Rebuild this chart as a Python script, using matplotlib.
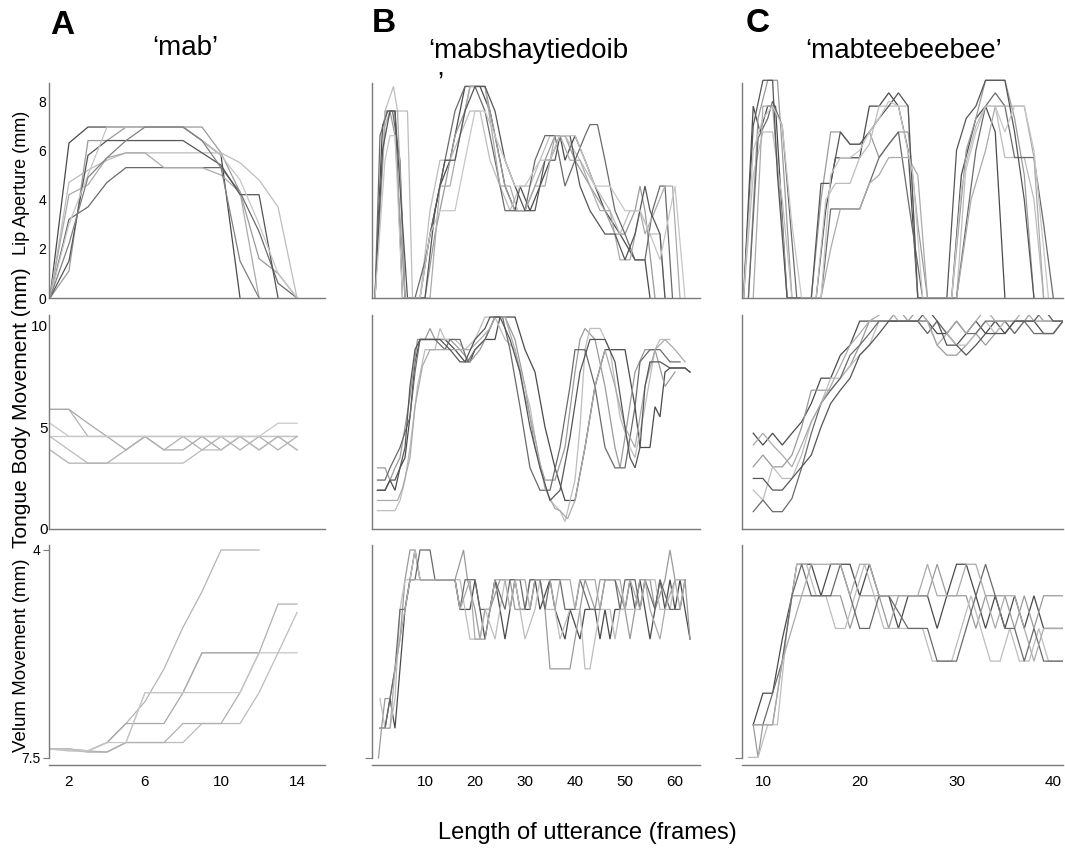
import matplotlib
matplotlib.use('Agg')
import matplotlib.pyplot as plt

# ---------------- data ----------------
# Column A ('mab'): one value per frame, starting at frame 1
A_LIP = [
    [0, 6.3, 6.95, 6.95, 6.95, 6.95, 6.95, 6.95, 6.4, 5.8, 0.0],
    [0, 1.1, 6.4, 6.4, 6.95, 6.95, 6.95, 6.95, 6.95, 5.9, 4.3, 1.6, 1.0, 0.0],
    [0, 4.7, 5.2, 5.6, 5.9, 5.9, 5.9, 5.9, 5.9, 5.9, 5.5, 4.8, 3.7, 0.0],
    [0, 3.2, 3.7, 4.7, 5.3, 5.3, 5.3, 5.3, 5.3, 5.3, 4.3, 2.7, 0.6, 0.0],
    [0, 4.2, 4.6, 5.7, 5.9, 5.9, 5.3, 5.3, 5.3, 5.0, 4.3, 0.0],
    [0, 1.5, 5.8, 6.4, 6.4, 6.4, 6.4, 6.4, 5.9, 5.4, 4.2, 4.2, 0.0],
    [0, 3.0, 5.0, 6.95, 6.95, 6.95, 6.95, 6.95, 6.4, 5.8, 4.8, 3.0, 1.0, 0.0],
    [0, 2.2, 4.9, 5.7, 6.4, 6.95, 6.95, 6.95, 6.4, 5.3, 1.5, 0.0],
]
A_TONGUE = [
    [5.87, 5.87, 4.54, 4.54, 4.54, 4.54, 4.54, 4.54, 4.54, 4.54, 4.54, 4.54, 4.54, 4.54],
    [5.19, 4.54, 4.54, 4.54, 4.54, 4.54, 4.54, 4.54, 4.54, 4.54, 4.54, 4.54, 4.54, 4.54],
    [5.87, 5.87, 5.19, 4.54, 3.88, 4.54, 3.88, 3.88, 4.54, 3.88, 4.54, 3.88, 4.54, 3.88],
    [4.54, 3.88, 3.23, 3.23, 3.23, 3.23, 3.23, 3.23, 3.88, 3.88, 4.54, 3.88, 4.54, 3.88],
    [3.88, 3.23, 3.23, 3.23, 3.88, 4.54, 3.88, 4.54, 3.88, 4.54, 3.88, 4.54, 3.88, 4.54],
    [4.54, 4.54, 4.54, 4.54, 4.54, 4.54, 4.54, 4.54, 4.54, 4.54, 4.54, 4.54, 5.19, 5.19],
]
A_VELUM = [
    [7.35, 7.38, 7.38, 7.24, 6.92, 6.55, 6.0, 5.3, 4.7, 4.0, 4.0, 4.0],
    [7.35, 7.37, 7.40, 7.40, 7.24, 6.40, 6.40, 6.40, 5.73, 5.73, 5.73, 5.73, 5.73, 5.73],
    [7.35, 7.35, 7.38, 7.24, 6.92, 6.92, 6.92, 6.40, 5.73, 5.73, 5.73, 5.73],
    [7.35, 7.35, 7.40, 7.40, 7.24, 7.24, 7.24, 7.24, 6.92, 6.92, 6.92, 6.40, 5.73, 5.05],
    [7.35, 7.35, 7.38, 7.40, 7.24, 7.24, 7.24, 6.92, 6.92, 6.92, 6.40, 5.73, 4.91, 4.91],
    [7.35, 7.36, 7.38, 7.24, 7.24, 6.40, 6.40, 6.40, 6.40, 6.40, 6.40, 5.73],
]

# Columns B and C: trace vertices as (frame, value)
B_LIP = [
    [(0,0),(1.5,7.0),(2.5,7.6),(4,7.6),(5.5,0),(9,0),(11,2.6),(13,4.55),(15,5.6),(17,7.6),(18,8.6),(21,8.6),(23,7.6),(25,5.6),(26,4.55),(28,3.55),(29,4.55),(31,3.55),(33,4.55),(35,5.6),(37,6.6),(38,5.6),(40,6.6),(42,5.6),(44,4.55),(46,3.55),(49,2.6),(52,1.55),(54,1.55),(55,0)],
    [(0,0),(2,7.6),(3,7.6),(4,6.6),(6,0),(10,0),(12,2.6),(14,4.55),(16,6.6),(18,7.6),(19,8.6),(22,8.6),(24,6.6),(26,4.55),(28,3.55),(30,3.55),(32,4.55),(34,5.6),(36,6.6),(38,6.6),(40,5.6),(43,4.55),(46,3.55),(48,2.6),(50,2.6),(52,3.55),(53,4.55),(54,3.55),(56,0)],
    [(0,0),(2,7.6),(3.7,8.6),(4.5,7.6),(6.5,7.6),(7.5,0),(9,0),(11,3.55),(13,5.6),(15,5.6),(17,6.6),(19,7.6),(21,7.6),(23,5.6),(25,4.55),(27,3.55),(29,4.55),(31,4.55),(33,5.6),(35,6.6),(38,6.6),(41,5.6),(44,4.55),(47,3.55),(49,2.6),(51,3.55),(53,3.55),(55,2.6),(57,2.6),(58,0)],
    [(0,0),(1,6.6),(2.5,7.6),(3.5,7.6),(5,5.6),(6,0),(8,0),(10,1.5),(12,3.55),(14,5.6),(16,7.6),(18,8.6),(20,8.6),(22,7.6),(24,5.6),(26,3.55),(28,3.55),(30,3.55),(32,5.6),(34,6.6),(36,6.6),(38,4.55),(40,5.6),(42,6.6),(43,7.05),(44.5,7.05),(46,5.6),(48,3.55),(50,2.6),(52,1.55),(54,1.55),(55.5,3.55),(57,4.55),(58,4.55),(59.5,0)],
    [(0,0),(2,7.0),(3,7.6),(4.5,7.6),(6,0),(11,0),(13,4.55),(15,4.55),(17,6.6),(19,8.6),(22,8.6),(23.5,6.6),(25,4.55),(27,4.55),(28.5,3.55),(30,3.55),(32,4.55),(34,4.55),(36,6.6),(37,6.6),(39,5.6),(41,5.6),(43,4.55),(45,3.55),(47,3.55),(49,1.55),(51,1.55),(53,3.55),(54,2.6),(56,3.55),(58,4.55),(59.5,4.55),(61,0)],
    [(0,0),(1.5,6.0),(3,7.6),(4,7.6),(5,4.55),(6.5,0),(10,0),(12,3.55),(14,5.6),(16,5.6),(18,7.6),(20,8.6),(22,8.6),(24,7.6),(26,5.6),(28,4.55),(30,3.55),(32,3.55),(34,5.6),(36,5.6),(37,6.6),(39,6.6),(41,4.55),(43,3.55),(46,2.6),(48,2.6),(50,1.55),(52,2.6),(54,4.55),(55,3.55),(57,2.6),(58,0)],
    [(0,0),(2,5.6),(3,6.6),(4,6.6),(5.5,0),(9,0),(11,2.6),(13,3.55),(16,3.55),(18,5.6),(20,7.6),(22,7.6),(24,6.6),(26,5.6),(28,4.55),(30,4.55),(33,5.6),(35,5.6),(37,6.6),(40,6.6),(42,5.6),(44,4.55),(47,4.55),(50,3.55),(53,3.55),(55,2.6),(57,1.55),(59,3.55),(60,4.55),(62,0)],
]
B_TONGUE = [
    [(0.5,1.9),(2,1.9),(3,2.4),(4,1.9),(5,3.0),(6,3.5),(7,5.5),(8,8.2),(9,9.3),(14,9.3),(16,8.8),(18,8.2),(19,8.2),(20,8.8),(22,9.3),(24,9.3),(25,10.4),(28,10.4),(30,8.8),(32,7.7),(34,5.0),(36,3.0),(38,1.4),(40,1.4),(42,4.0),(44,7.0),(46,8.8),(50,8.8),(52,6.0),(53,4.0),(55,4.0),(56,6.0),(57,5.5),(58,7.7),(59,7.9),(62,7.9),(63,7.7)],
    [(0.5,3.0),(2,3.0),(3,2.4),(4,3.0),(5,3.5),(7,6.5),(8.5,9.3),(10,9.3),(11,9.84),(12,9.3),(15,9.3),(17,8.8),(19,8.2),(21,8.8),(22,9.3),(23,9.84),(24,10.4),(26,10.4),(28,9.3),(30,7.0),(32,4.0),(34,2.4),(36,2.4),(38,4.0),(40,7.7),(41,9.3),(42,9.84),(44,9.3),(46,7.0),(48,4.0),(49,3.0),(50,4.5),(52,7.7),(54,8.8),(56,8.8),(58,7.0),(60,7.7)],
    [(0.5,0.9),(4,0.9),(5,1.4),(6,2.4),(7,4.0),(8.5,7.0),(10,8.8),(12,8.8),(13,9.84),(14,9.3),(16,9.3),(18,8.8),(20,9.3),(21,9.84),(22,10.4),(24,10.4),(26,9.3),(28,8.8),(31,6.0),(33,3.0),(35,1.4),(37,0.9),(38,0.36),(40,2.4),(41,5.0),(42,8.8),(43,9.84),(45,9.84),(47,8.8),(49,5.5),(51,4.0),(52,3.5),(54,6.0),(56,8.8),(57,9.3),(59,9.3)],
    [(0.5,2.4),(2,2.4),(3,3.0),(4,3.5),(5,4.0),(7,5.5),(8,7.7),(9,9.3),(12,9.3),(14,8.8),(15,9.3),(17,9.3),(18.5,8.2),(20,8.8),(22,9.3),(24,10.4),(25.5,10.4),(27,8.8),(29,6.0),(31,3.0),(33,1.9),(35,1.9),(37,4.0),(39,7.0),(40,8.8),(42,8.8),(44,7.0),(46,4.0),(48,3.0),(50,3.0),(52,6.0),(53,8.2),(55,8.8),(57,8.8),(59,8.2),(61,8.2)],
    [(0.5,1.4),(4.5,1.4),(5.5,2.0),(7,3.5),(8,6.0),(9.5,8.0),(11,8.8),(19,8.8),(21,9.3),(23,9.84),(24,10.4),(26,10.4),(28,8.8),(30,6.5),(32,4.5),(34,2.0),(36,1.0),(37,0.9),(38.5,0.5),(40,1.4),(42,4.0),(44,7.0),(46,8.8),(48,7.0),(50,5.0),(52,4.0),(54,7.0),(56,8.8),(58,9.3),(60,8.8),(62,8.2)],
    [(0.5,1.9),(2,1.9),(3,2.4),(4,2.4),(5,3.0),(6,4.0),(7,7.0),(8,8.8),(9,9.3),(13,9.3),(15,8.8),(17,8.2),(18,8.2),(20,9.3),(22,9.84),(23,10.4),(25,10.4),(27,9.3),(29,7.7),(31,5.0),(33,3.0),(35,1.4),(37,1.9),(39,4.5),(41,7.7),(43,9.3),(46,9.3),(48,8.2),(50,5.0),(51,3.5),(52,3.0),(53,4.0),(54,7.0),(55,8.2),(57,8.2),(59,7.9),(62,7.9),(63,7.7)],
]
B_VELUM = [
    [(1,7.0),(2,7.0),(3,6.5),(4,7.0),(5,6.0),(6,5.0),(7,4.5),(8,4.0),(9,4.5),(16,4.5),(17,5.0),(19,5.0),(20,4.5),(21,5.0),(22,5.5),(23,5.0),(24,4.5),(25,5.0),(26,5.5),(27,5.0),(28,4.5),(29,5.0),(31,5.0),(32,4.5),(33,5.0),(35,4.5),(36,5.0),(38,5.5),(39,5.0),(41,5.5),(42,5.0),(44,5.0),(45,5.5),(46,5.0),(47,5.5),(48,5.0),(50,5.0),(51,4.5),(52,5.0),(53,4.5),(54,5.0),(55,5.5),(56,5.0),(57,4.5),(58,5.0),(59,4.5),(60,5.0),(61,4.5),(62,5.0),(63,5.5)],
    [(0.7,7.5),(1.3,7.0),(2,6.5),(3,6.5),(4,6.0),(5,5.5),(6,4.5),(7,4.0),(8,4.0),(9,4.5),(16,4.5),(17.7,4.0),(18.5,4.5),(20,5.0),(21,5.5),(22,5.5),(23,5.0),(25,4.5),(27,4.5),(28,5.0),(30,5.0),(31,4.5),(33,4.5),(34,5.0),(35,6.0),(39,6.0),(40,5.5),(41,5.0),(42,4.5),(44,5.0),(45,4.5),(48,4.5),(50,5.0),(51,5.5),(52,5.0),(53,4.5),(55,4.5),(56,5.0),(58,4.5),(59,4.0),(60,4.5),(62,4.5),(63,5.5)],
    [(1,6.5),(2,7.0),(3,7.0),(4,6.5),(5,5.0),(6,4.5),(7,4.5),(8,4.0),(9,4.5),(17,4.5),(18,5.0),(19,5.5),(21,5.5),(22,5.0),(24,5.5),(25,5.0),(26,4.5),(28,4.5),(29,5.0),(30,5.5),(32,5.0),(33,4.5),(34,5.0),(36,5.0),(37,5.5),(39,5.0),(41,5.0),(42,6.0),(43,6.0),(44,5.5),(45,5.0),(47,5.0),(48,5.5),(49,5.0),(53,5.0),(54,4.5),(56,4.5),(57,5.0),(59,5.0),(60,4.5),(62,4.5)],
    [(1,7.0),(2,7.0),(3,6.5),(4,6.0),(5,5.0),(6,5.0),(7,4.5),(8,4.5),(9,4.0),(11,4.0),(12,4.5),(16,4.5),(17,5.0),(18,4.5),(20,4.5),(21,5.0),(23,5.0),(24,4.5),(26,5.0),(27,4.5),(29,4.5),(30,5.0),(31,4.5),(33,4.5),(34,5.0),(35,4.5),(37,4.5),(38,5.0),(40,5.0),(41,4.5),(43,5.0),(45,5.0),(46,4.5),(48,4.5),(49,5.0),(50,4.5),(52,4.5),(53,5.0),(54,4.5),(56,5.0),(57,4.5),(59,5.0),(61,5.0),(62,4.5)],
    [(1,7.0),(3,7.0),(4,6.0),(5,5.5),(6,5.0),(7,4.5),(16,4.5),(17,5.0),(19,4.5),(20,5.5),(21,5.5),(22,5.0),(23,5.0),(24,4.5),(26,4.5),(27,5.0),(28,4.5),(30,4.5),(31,5.0),(32,4.5),(35,4.5),(36,5.0),(37,4.5),(39,4.5),(40,5.0),(41,4.5),(44,4.5),(45,5.0),(46,4.5),(49,4.5),(50,5.0),(51,4.5),(53,5.0),(54,4.5),(55,5.0),(57,5.5),(58,5.0),(60,4.5),(61,5.0),(62,4.5)],
]

C_LIP = [
    [(8,0),(9,7.8),(9.7,6.75),(10.5,7.8),(11.3,7.8),(12.5,0),(15.5,0),(16.5,3.6),(17.5,5.7),(20,5.7),(21,7.8),(22,7.8),(23,8.34),(24,7.8),(25,6.0),(26,0),(29.5,0),(30.5,5.0),(32,7.3),(33,7.8),(34,6.75),(35,0)],
    [(8.5,0),(9.5,7.3),(10.5,8.85),(11.5,8.85),(12,6.0),(13,0),(15,0),(16,4.0),(17,6.75),(18,6.75),(19,6.25),(20,6.25),(21,6.75),(22,5.71),(23,6.25),(24,6.75),(25,6.75),(26,3.0),(27,0),(29.5,0),(31,6.0),(32,7.3),(33,8.85),(35,8.85),(36,7.3),(37,5.0),(38,0)],
    [(8,0),(9,5.0),(10,6.75),(11,6.75),(12,4.0),(13,0),(15.5,0),(16.5,4.0),(17.5,4.66),(19,4.66),(20,5.71),(21,6.25),(22,7.8),(25,7.8),(26,0),(30,0),(31,5.5),(32,7.0),(33,7.8),(34,7.8),(35,5.71),(37,5.71),(38,4.0),(39,0)],
    [(8.5,0),(9.5,6.5),(10.5,7.3),(11,8.0),(12,7.0),(13.5,0),(16,0),(17,3.62),(20,3.62),(21,4.66),(22,5.71),(23,6.25),(24,6.75),(25,4.0),(26.5,0),(30,0),(31,3.0),(32,6.0),(33,7.8),(34,8.34),(35,7.8),(36,5.71),(38,5.71),(39,3.0),(40,0)],
    [(9,0),(10,7.8),(11,7.8),(12,3.0),(12.5,0),(16,0),(17,2.0),(18,3.62),(20,3.62),(21,4.66),(22,5.0),(23,5.71),(25,5.71),(26,5.0),(27,0),(30,0),(31.5,4.0),(33,6.0),(34,7.8),(37,7.8),(38,5.71),(39,0)],
    [(8,0),(9,7.0),(10,8.85),(11,8.85),(11.5,5.0),(12.5,0),(15,0),(16,4.66),(17,4.66),(18,6.75),(19,6.25),(20,6.25),(21,6.75),(22,7.3),(23,7.8),(24,8.34),(25,7.8),(26,0),(29,0),(30,6.0),(31,7.3),(32,7.8),(33,8.85),(35,8.85),(36,6.75),(37,4.0),(38,0)],
    [(8,0),(9,6.0),(10,7.3),(11,7.8),(12,7.0),(13,3.0),(14,0),(16,0),(17,5.0),(18,5.71),(19,5.71),(20,6.0),(21,6.75),(22,7.3),(23,8.0),(24,7.8),(25.5,5.0),(26.5,0),(29.5,0),(30.5,4.5),(32,6.75),(33,7.8),(34,7.8),(35,6.75),(36,7.8),(37,7.8),(38,6.0),(39.5,0)],
]
C_TONGUE = [
    [(9,4.7),(10,4.12),(11,4.7),(12,4.12),(13,4.7),(14,5.26),(15,6.16),(16,7.4),(17,7.4),(18,8.53),(19,9.02),(20,10.2),(27,10.2),(28,9.59),(29,9.59),(30,9.02),(31,9.59),(32,10.2),(33,9.59),(34,10.2),(35,9.59),(36,10.2),(38,10.2),(39,9.59),(40,9.59),(41,10.2)],
    [(9,3.05),(10,3.63),(11,3.05),(12,3.05),(13,3.63),(14,5.0),(15,6.81),(17,6.81),(18,7.4),(19,8.0),(20,9.02),(21,10.2),(23,10.2),(24,10.8),(25,10.2),(26,10.8),(27,10.2),(28,9.02),(29,8.53),(30,8.53),(31,9.02),(32,9.59),(33,9.02),(34,9.59),(35,10.2),(37,10.2),(38,10.8),(39,10.2),(41,10.2)],
    [(9,1.91),(10,1.42),(11,3.05),(12,2.48),(13,2.48),(14,3.63),(15,5.26),(16,6.16),(17,7.4),(18,7.4),(19,8.0),(20,8.53),(21,9.02),(22,10.2),(26,10.2),(27,9.59),(28,10.2),(29,9.59),(30,9.02),(31,9.02),(32,9.59),(33,10.2),(34,9.59),(35,10.2),(36,9.59),(37,10.2),(41,10.2)],
    [(9,0.85),(10,1.42),(11,0.85),(12,0.85),(13,1.5),(14,3.0),(15,4.7),(16,6.16),(17,6.81),(18,7.4),(19,8.53),(20,9.02),(21,9.59),(22,10.2),(26,10.2),(27,9.59),(28,10.2),(29,9.59),(30,10.2),(31,9.59),(32,9.59),(33,10.2),(35,10.2),(36,9.59),(37,10.2),(38,9.59),(40,9.59),(41,10.2)],
    [(9,4.12),(10,4.7),(11,4.12),(12,3.63),(13,3.05),(14,4.12),(15,5.26),(16,6.16),(17,7.0),(18,8.0),(19,9.02),(20,9.59),(21,10.2),(23,10.8),(24,10.2),(27,10.2),(28,9.02),(29,9.59),(30,10.2),(31,9.59),(32,10.2),(33,10.8),(34,10.2),(36,10.2),(37,10.8),(38,10.2),(41,10.2)],
    [(9,2.48),(10,2.48),(11,1.91),(12,1.91),(13,2.48),(14,3.05),(15,3.63),(16,5.0),(17,6.16),(18,6.81),(19,7.4),(20,8.53),(21,9.02),(22,9.59),(23,10.2),(26,10.2),(27,10.8),(28,10.2),(29,9.02),(30,9.02),(31,8.53),(32,9.02),(33,9.59),(35,9.59),(36,10.2),(38,10.2),(39,10.8),(40,10.2),(41,10.2)],
]
C_VELUM = [
    [(9,6.94),(10,6.41),(11,6.41),(12,5.5),(13,4.77),(13.5,4.24),(15,4.24),(16,4.77),(17,4.24),(19,4.24),(20,4.77),(21,4.24),(22,4.77),(23,4.77),(24,5.32),(25,4.77),(27,4.77),(28,5.32),(29,4.77),(30,4.24),(31,4.24),(32,4.77),(33,5.32),(34,4.77),(35,5.32),(36,4.77),(37,5.32),(38,4.77),(39,5.32),(41,5.32)],
    [(9,6.94),(9.5,7.49),(10,6.94),(11,6.94),(12,5.87),(13,4.77),(18,4.77),(19,5.32),(20,4.77),(22,4.77),(23,5.32),(24,4.77),(27,4.77),(28,4.24),(29,4.77),(31,4.77),(32,5.32),(33,4.77),(35,4.77),(36,5.32),(37,4.77),(38,5.32),(39,4.77),(41,4.77)],
    [(8.5,7.49),(9.5,7.49),(10.5,6.94),(11.5,6.94),(12.5,5.32),(13.5,4.24),(14.5,4.24),(15.5,4.77),(16.5,4.77),(17.5,5.32),(18.5,5.32),(19.5,4.77),(20.5,4.24),(21.5,4.77),(22.5,5.32),(26.5,5.32),(27.5,5.87),(29.5,5.87),(30.5,5.32),(31.5,4.77),(32.5,5.32),(33.5,5.87),(34.5,5.87),(35.5,5.32),(36.5,5.87),(37.5,5.87),(38.5,5.32),(39.5,5.87),(41,5.87)],
    [(9,6.94),(10,6.94),(11,6.41),(12,5.87),(12.5,5.32),(13,4.77),(14,4.24),(15,4.77),(17,4.77),(18,4.24),(19,4.77),(20,5.32),(21,5.32),(22,4.77),(23,4.77),(25,5.32),(27,5.32),(28,5.87),(30,5.87),(31,5.32),(32,4.77),(33,4.24),(34,4.77),(35,5.32),(36,5.32),(37,5.87),(38,5.32),(39,5.87),(41,5.87)],
    [(9,6.94),(11,6.94),(12,5.87),(13,5.32),(14,4.77),(15,4.24),(18,4.24),(19,4.77),(20,4.24),(21,4.24),(22,4.77),(26,4.77),(27,4.24),(28,4.77),(30,4.77),(31,4.24),(32,4.24),(33,4.77),(34,5.32),(35,4.77),(36,4.77),(37,5.32),(38,5.87),(39,5.32),(41,5.32)],
]

PANEL_LETTERS = ["A", "B", "C"]
TITLES = ["\u2018mab\u2019", "\u2018mabshaytiedoib", "\u2018mabteebeebee\u2019"]
TITLE_B_TAIL = "\u2019"
Y_LABELS = ["Lip Aperture (mm)", "Tongue Body Movement (mm)", "Velum Movement (mm)"]
X_LABEL = "Length of utterance (frames)"
A_XTICKS = [2, 6, 10, 14]
B_XTICKS = [10, 20, 30, 40, 50, 60]
C_XTICKS = [10, 20, 30, 40]

# ---------------- drawing ----------------
W, H = 1065, 852
plt.rcParams['font.family'] = ['Liberation Sans', 'DejaVu Sans']
fig = plt.figure(figsize=(W / 100, H / 100), dpi=100)
fig.patch.set_facecolor('white')

GRAYS = ['#4a4a4a', '#9a9a9a', '#bdbdbd', '#6a6a6a', '#aaaaaa', '#555555', '#c6c6c6', '#808080']
SPINE = '#7a7a7a'

def px_axes(l, t, r, b):
    return fig.add_axes([l / W, 1 - b / H, (r - l) / W, (b - t) / H])

cols = [(49, 325), (372, 700), (742, 1063)]
xlims = [(0.95, 15.47), (-0.6, 65.0), (7.84, 41.0)]
rows = [(76.6, 298), (315, 529), (545, 765)]
ylims = [(0, 9.0), (0, 10.5), (7.618, 3.916)]
spine_bounds = [(0, 8.75), (0, 10.5), (7.5, 3.916)]
xticks = [A_XTICKS, B_XTICKS, C_XTICKS]

data = [[A_LIP, A_TONGUE, A_VELUM], [B_LIP, B_TONGUE, B_VELUM], [C_LIP, C_TONGUE, C_VELUM]]
LIGHTS = ['#b4b4b4', '#c4c4c4', '#a8a8a8', '#bcbcbc', '#b0b0b0', '#c8c8c8']

for ci, (l, r) in enumerate(cols):
    for ri, (t, b) in enumerate(rows):
        ax = px_axes(l, t, r, b)
        ax.set_facecolor('none')
        traces = data[ci][ri]
        for k, tr in enumerate(traces):
            if ci == 0:
                xs = list(range(1, len(tr) + 1))
                ys = tr
                col = GRAYS[k % len(GRAYS)] if ri == 0 else LIGHTS[k % len(LIGHTS)]
            else:
                xs = [p[0] for p in tr]
                ys = [p[1] for p in tr]
                col = GRAYS[k % len(GRAYS)]
            ax.plot(xs, ys, color=col, lw=0.9, solid_joinstyle='miter', clip_on=(ri != 0))
        ax.set_xlim(*xlims[ci])
        ax.set_ylim(*ylims[ri])
        for s in ['top', 'right']:
            ax.spines[s].set_visible(False)
        for s in ['left', 'bottom']:
            ax.spines[s].set_color(SPINE)
            ax.spines[s].set_linewidth(1.0)
        ax.spines['left'].set_bounds(*spine_bounds[ri])
        ax.tick_params(axis='both', length=0, colors='#000000', labelsize=10)
        if ci == 0:
            if ri == 0:
                ax.set_yticks([0, 2, 4, 6, 8])
                ax.tick_params(axis='y', pad=2, labelsize=10)
            elif ri == 1:
                ax.set_yticks([0, 5, 10])
                ax.tick_params(axis='y', pad=1, labelsize=11)
            else:
                ax.set_yticks([4, 7.5])
                ax.set_yticklabels(['4', '7.5'])
                ax.tick_params(axis='y', pad=2, length=4, color=SPINE, labelsize=10)
        else:
            if ri == 2:
                ax.set_yticks([7.5])
                ax.set_yticklabels([''])
                ax.tick_params(axis='y', length=5, color=SPINE)
            else:
                ax.set_yticks([])
        if ri == 2:
            ax.set_xticks(xticks[ci])
            ax.tick_params(axis='x', pad=7, labelsize=11)
        else:
            ax.set_xticks([])

def ftext(x, y, s, **kw):
    fig.text(x / W, 1 - y / H, s, **kw)

# panel letters
ftext(50, 26, PANEL_LETTERS[0], fontsize=24, fontweight='bold', ha='left', va='center')
ftext(372, 23, PANEL_LETTERS[1], fontsize=24, fontweight='bold', ha='left', va='center')
ftext(746, 23, PANEL_LETTERS[2], fontsize=24, fontweight='bold', ha='left', va='center')

# titles
ftext(185, 55, TITLES[0], fontsize=20, ha='center', va='baseline')
ftext(428, 58, TITLES[1], fontsize=20, ha='left', va='baseline')
ftext(437, 91, TITLE_B_TAIL, fontsize=20, ha='left', va='baseline')
ftext(805, 58, TITLES[2], fontsize=20, ha='left', va='baseline')

# y labels
ftext(22, 183, Y_LABELS[0], fontsize=13, rotation=90, ha='center', va='center')
ftext(22, 408, Y_LABELS[1], fontsize=15, rotation=90, ha='center', va='center')
ftext(22, 655, Y_LABELS[2], fontsize=13.5, rotation=90, ha='center', va='center')

# x label
ftext(587, 833, X_LABEL, fontsize=17, ha='center', va='center')

fig.savefig('out.png', dpi=100, facecolor='white')
